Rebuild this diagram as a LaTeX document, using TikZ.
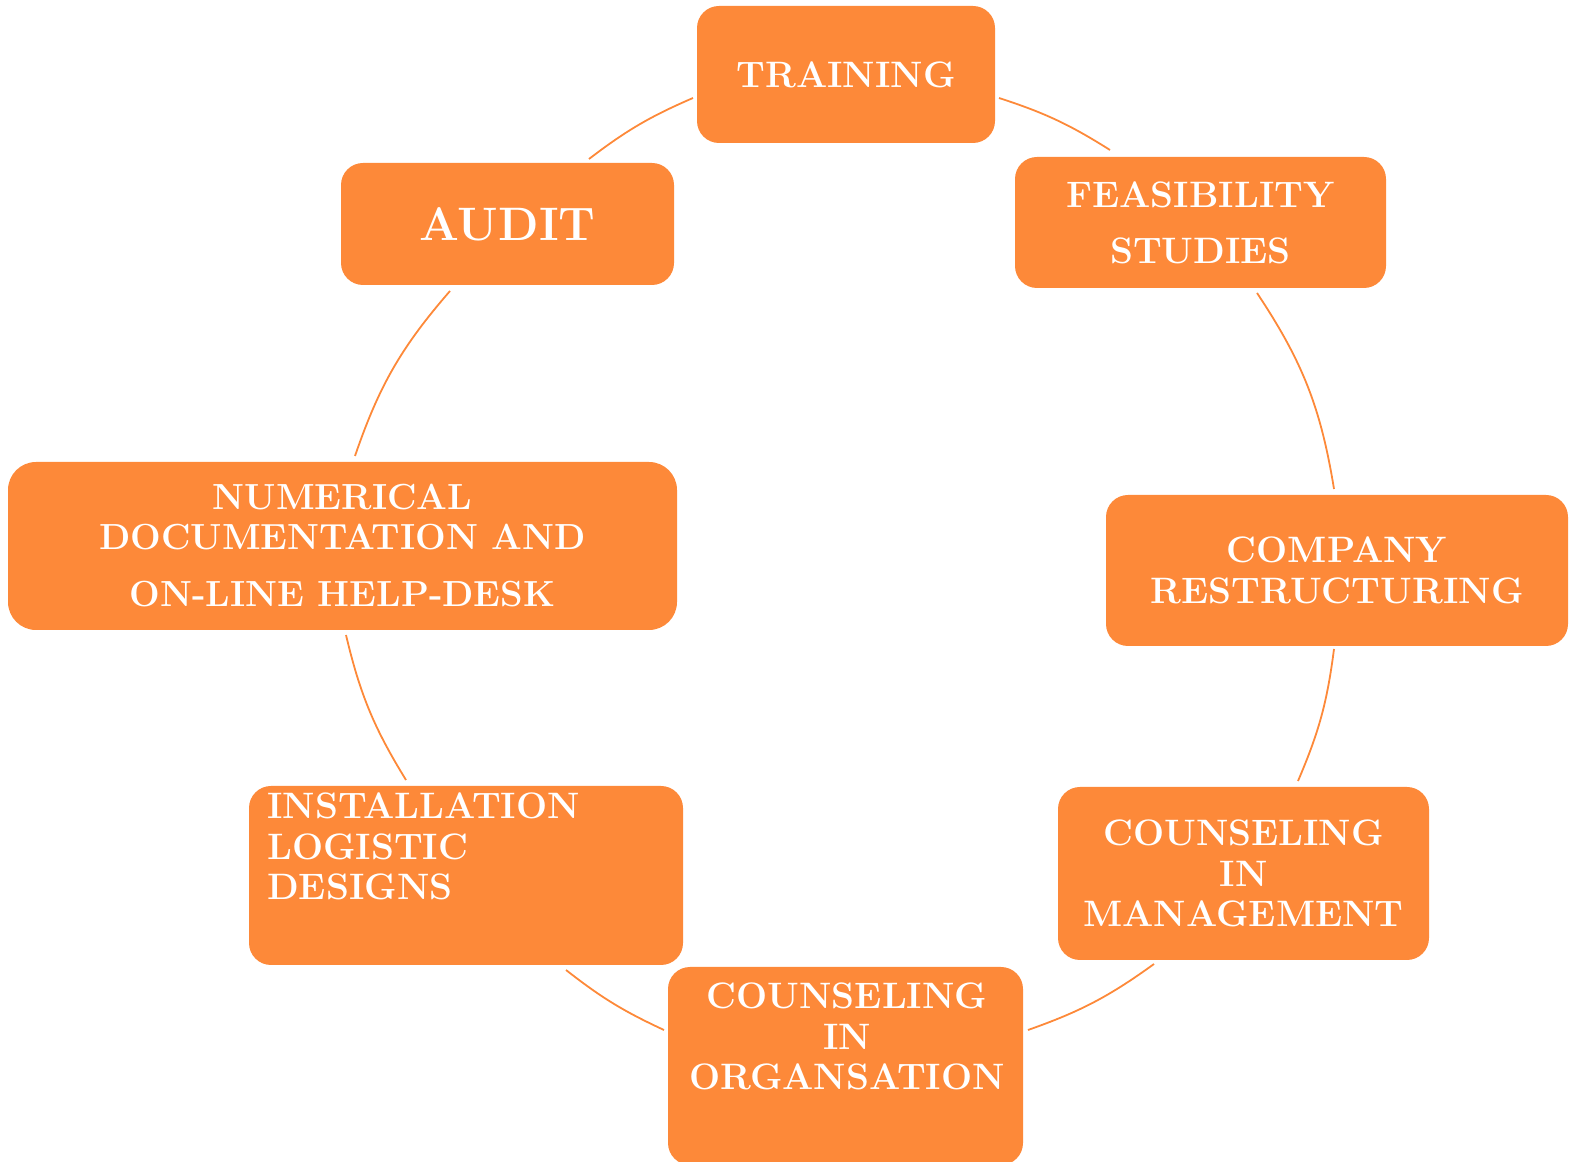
\documentclass[tikz,border=0pt]{standalone}
\usepackage{fontspec}
\definecolor{org}{RGB}{253,137,57}
\begin{document}
\begin{tikzpicture}[x=1pt,y=1pt,
  box/.style={fill=org, draw=none, rounded corners=22pt, inner sep=0pt, text=white, align=center,
    font=\fontsize{36.8}{40.5}\selectfont\bfseries},
  txt/.style={inner sep=0pt, text=white, font=\fontsize{36.8}{40.5}\selectfont\bfseries},
  arcline/.style={draw=org, line width=1.8pt}]
\useasboundingbox (0,0) rectangle (1569,1162);
% boxes
\node[box, minimum width=298pt, minimum height=137pt] (train) at (846,1087.5) {TRAINING};
\node[box, minimum width=333pt, minimum height=122pt, font=\fontsize{47}{52}\selectfont\bfseries] (audit) at (507.5,938) {AUDIT};
\node[box, minimum width=371pt, minimum height=131pt] (feas) at (1200.5,939.5) {FEASIBILITY\\[15.5pt]STUDIES};
\node[box, minimum width=669pt, minimum height=168pt, rounded corners=28pt, font=\fontsize{36.3}{40}\selectfont\bfseries] (num) at (342.5,616) {NUMERICAL\\DOCUMENTATION AND\\[17pt]ON-LINE HELP-DESK};
\node[box, minimum width=462pt, minimum height=151pt] (comp) at (1337,591.5) {COMPANY\\RESTRUCTURING};
\node[box, minimum width=434pt, minimum height=179pt] (inst) at (466,286.5) {};
\node[txt, anchor=north west, align=left] (inst-t) at (267,369) {INSTALLATION\\LOGISTIC\\DESIGNS};
\node[box, minimum width=371pt, minimum height=173pt] (mgmt) at (1243.5,288.5) {COUNSELING\\IN\\MANAGEMENT};
\node[box, minimum width=355pt, minimum height=198pt] (orga) at (845.5,96) {};
\node[txt, anchor=north, align=center] (orga-t) at (847,179) {COUNSELING\\IN\\ORGANSATION};
% arc end points
\coordinate (p1) at (999,1064);
\coordinate (p2) at (1110,1012);
\coordinate (p3) at (1257,869);
\coordinate (p4) at (1334,673);
\coordinate (p5) at (1334,513);
\coordinate (p6) at (1298,381);
\coordinate (p7) at (1154,198);
\coordinate (p8) at (1028,132);
\coordinate (p9) at (664,132);
\coordinate (p10) at (566,192);
\coordinate (p11) at (406,382);
\coordinate (p12) at (346,527);
\coordinate (p13) at (355,706);
\coordinate (p14) at (450,871);
\coordinate (p15) at (589,1003);
\coordinate (p16) at (693,1064);
% arcs of the cycle
\draw[arcline] (p1) to[bend left=7.1] (p2);
\draw[arcline] (p3) to[bend left=12.2] (p4);
\draw[arcline] (p5) to[bend left=7.9] (p6);
\draw[arcline] (p7) to[bend left=8.2] (p8);
\draw[arcline] (p9) to[bend left=6.6] (p10);
\draw[arcline] (p11) to[bend left=9.1] (p12);
\draw[arcline] (p13) to[bend left=11.0] (p14);
\draw[arcline] (p15) to[bend left=7.0] (p16);
\end{tikzpicture}
\end{document}
